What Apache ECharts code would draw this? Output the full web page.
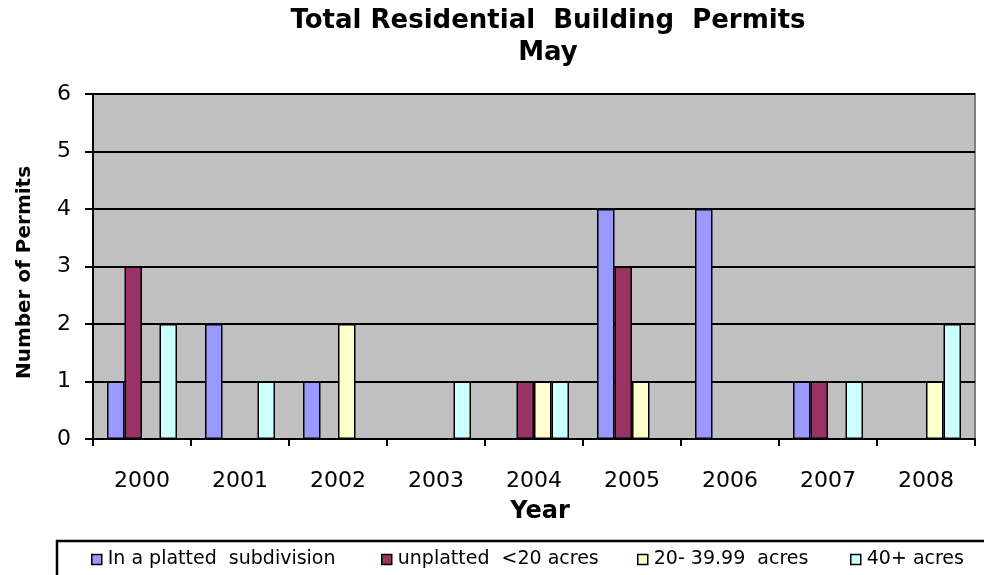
<!DOCTYPE html>
<html>
<head>
<meta charset="utf-8">
<script src="https://cdn.jsdelivr.net/npm/echarts@6/dist/echarts.min.js"></script>
<style>
html,body{margin:0;padding:0;background:#fff;}
#main{width:984px;height:575px;}
</style>
</head>
<body>
<div id="main"></div>
<script>
const years = ['2000','2001','2002','2003','2004','2005','2006','2007','2008'];
const seriesNames = ['In a platted  subdivision','unplatted  <20 acres','20- 39.99  acres','40+ acres'];
const platted   = [1,2,1,0,0,4,4,1,0];
const unplatted = [3,0,0,0,1,3,0,1,0];
const acres20   = [0,0,2,0,1,1,0,0,1];
const acres40   = [2,1,0,1,1,0,0,1,2];
const yTicks = [0,1,2,3,4,5,6];
const colors = ['#9999FF','#993366','#FFFFCC','#CCFFFF'];
const values = [platted, unplatted, acres20, acres40];

const FONT = '"DejaVu Sans", "Liberation Sans", Arial, sans-serif';
const legendLefts = [91, 381, 637, 850];

const chart = echarts.init(document.getElementById('main'), null, {renderer:'canvas'});
chart.setOption({
  animation: false,
  backgroundColor: '#ffffff',
  color: colors,
  title: {
    text: 'Total Residential  Building  Permits\nMay',
    left: 548,
    top: 5,
    textAlign: 'center',
    padding: 0,
    textStyle: {fontFamily: FONT, fontSize: 26, fontWeight: 'bold', color: '#000', lineHeight: 32}
  },
  graphic: [{
    type: 'rect',
    shape: {x: 57, y: 541, width: 940, height: 60},
    style: {fill: '#fff', stroke: '#000', lineWidth: 2.5},
    z: -1
  }],
  legend: seriesNames.map((n, i) => ({
    data: [n],
    left: legendLefts[i],
    top: 550,
    itemWidth: 10,
    itemHeight: 10,
    itemGap: 0,
    padding: 0,
    icon: 'rect',
    selectedMode: false,
    itemStyle: {borderColor: '#000', borderWidth: 1.5},
    textStyle: {fontFamily: FONT, fontSize: 19, color: '#000', padding: [6,0,0,1]}
  })),
  grid: {
    left: 93, right: 9, top: 94, bottom: 136,
    show: true,
    backgroundColor: '#C0C0C0',
    borderColor: '#808080',
    borderWidth: 2
  },
  xAxis: {
    type: 'category',
    data: years,
    name: 'Year',
    nameLocation: 'middle',
    nameGap: 61,
    nameTextStyle: {fontFamily: FONT, fontSize: 24, fontWeight: 'bold', color: '#000', padding: [0,0,0,12]},
    axisLine: {show: true, lineStyle: {color: '#000', width: 2}},
    axisTick: {show: true, length: 7, lineStyle: {color: '#000', width: 2}},
    axisLabel: {fontFamily: FONT, fontSize: 22, color: '#000', margin: 31}
  },
  yAxis: {
    type: 'value',
    min: yTicks[0],
    max: yTicks[yTicks.length - 1],
    interval: 1,
    name: 'Number of Permits',
    nameLocation: 'middle',
    nameGap: 58,
    nameTextStyle: {fontFamily: FONT, fontSize: 20, fontWeight: 'bold', color: '#000', padding: [0,12,0,0]},
    axisLine: {show: true, lineStyle: {color: '#000', width: 2}},
    axisTick: {show: true, length: 8, lineStyle: {color: '#000', width: 2}},
    axisLabel: {fontFamily: FONT, fontSize: 22, color: '#000', margin: 22},
    splitLine: {show: true, lineStyle: {color: '#000', width: 2}}
  },
  series: values.map((v, i) => ({
    name: seriesNames[i],
    type: 'bar',
    data: v,
    barWidth: 17.5,
    barGap: '0%',
    itemStyle: {color: colors[i], borderColor: '#000', borderWidth: 1.5}
  }))
});
</script>
</body>
</html>
